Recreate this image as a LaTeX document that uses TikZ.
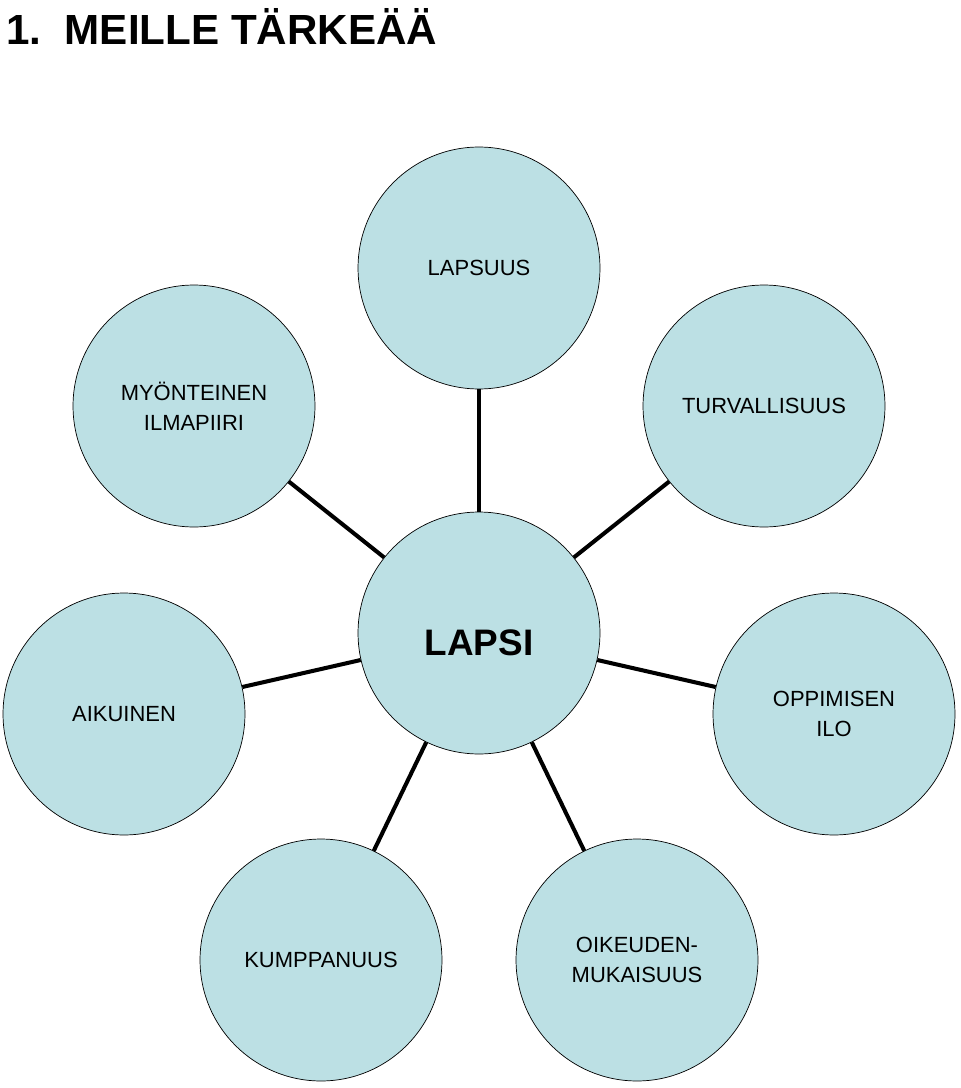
\documentclass[tikz,border=0pt]{standalone}
\usepackage{fontspec}
\setmainfont{Liberation Sans}
\definecolor{bubble}{HTML}{BCE0E4}
\begin{document}
\begin{tikzpicture}[x=0.02cm,y=-0.02cm,
    bubble/.style={circle, draw, thin, fill=bubble, minimum size=4.84cm, inner sep=0pt, align=center, font=\fontsize{12.5}{17}\selectfont},
    spoke/.style={line width=2.3pt}]
            \useasboundingbox (0,0) rectangle (960,1088);
            % Title
            \node[anchor=west, font=\fontsize{24}{26}\selectfont\bfseries] (title) at (0,26) {1.\ \ MEILLE TÄRKEÄÄ};

            % Bubbles
            \node[bubble] (lapsuus) at (479,268) {LAPSUUS};
            \node[bubble] (myont) at (194,406) {MYÖNTEINEN\\ILMAPIIRI};
            \node[bubble] (turva) at (764,406) {TURVALLISUUS};
            \node[bubble] (lapsi) at (479,633) {};
            \node[font=\fontsize{21}{24}\selectfont\bfseries] (lapsitext) at (479,643) {LAPSI};
            \node[bubble] (aikuinen) at (124,714) {AIKUINEN};
            \node[bubble] (oppi) at (834,714) {OPPIMISEN\\ILO};
            \node[bubble] (kumppa) at (321,960) {KUMPPANUUS};
            \node[bubble] (oikeus) at (637,960) {OIKEUDEN-\\MUKAISUUS};

            % Spokes
            \foreach \n in {lapsuus, myont, turva, aikuinen, oppi, kumppa, oikeus}
                \draw[spoke] (lapsi) -- (\n);
        \end{tikzpicture}
\end{document}
